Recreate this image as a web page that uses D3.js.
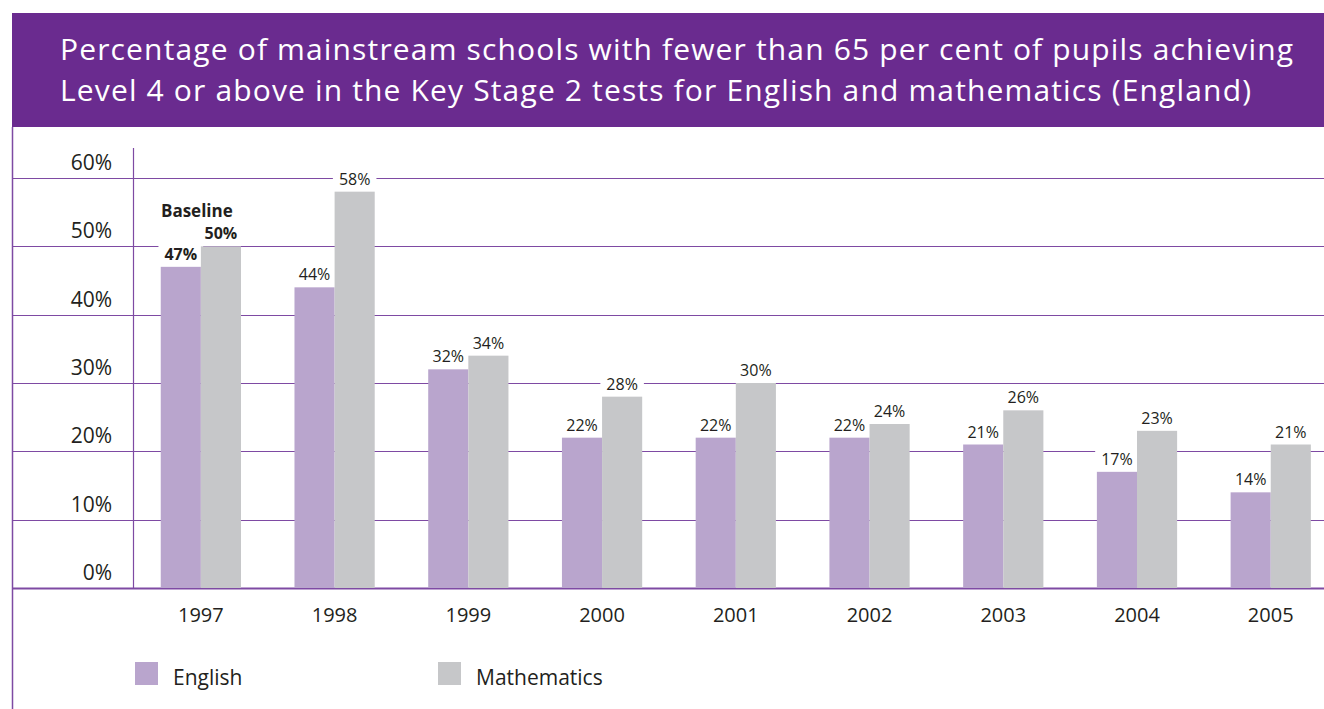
<!DOCTYPE html>
<html>
<head>
<meta charset="utf-8">
<script src="https://cdn.jsdelivr.net/npm/d3@7"></script>
<style>
  html, body { margin: 0; padding: 0; background: #ffffff; }
  svg { display: block; font-family: "Open Sans", "Noto Sans", sans-serif; }
</style>
</head>
<body>
<div id="chart"></div>
<script>
// Key Stage 2 results: share of schools under the 65% floor target
const years = ["1997", "1998", "1999", "2000", "2001", "2002", "2003", "2004", "2005"];
const english = [47, 44, 32, 22, 22, 22, 21, 17, 14];
const mathematics = [50, 58, 34, 28, 30, 24, 26, 23, 21];
const seriesNames = ["English", "Mathematics"];
const yTicks = [0, 10, 20, 30, 40, 50, 60];
const titleLines = [
  "Percentage of mainstream schools with fewer than 65 per cent of pupils achieving",
  "Level 4 or above in the Key Stage 2 tests for English and mathematics (England)"
];
const baselineYear = "1997";

const W = 1324, H = 709;
const purple = "#6a2b8f";
const gridPurple = "#7e4aa3";
const colors = { English: "#b9a5cd", Mathematics: "#c6c7c9" };
const textColor = "#231f20";

const svg = d3.select("#chart").append("svg")
  .attr("width", W).attr("height", H);

// Header band
svg.append("rect")
  .attr("x", 12).attr("y", 13).attr("width", W - 12).attr("height", 114)
  .attr("fill", purple);

// Title: first line spread to span the header width, second line shares its spacing
const titleWidth = 1233;
const titleText = svg.append("g").selectAll("text").data(titleLines).join("text")
  .attr("x", 60)
  .attr("y", (d, i) => 59.5 + i * 41)
  .attr("fill", "#ffffff")
  .attr("font-size", 30)
  .text(d => d);
const natural = titleText.nodes()[0].getComputedTextLength();
const spacing = (titleWidth - natural) / (titleLines[0].length - 1);
titleText.attr("letter-spacing", spacing);

// Left frame line
svg.append("line")
  .attr("x1", 12.5).attr("x2", 12.5).attr("y1", 127).attr("y2", H)
  .attr("stroke", gridPurple).attr("stroke-width", 1.5);

// Scales
const y = d3.scaleLinear().domain([0, 60]).range([588, 178]);
const x = d3.scaleBand().domain(years).range([134, 1337.6]).paddingInner(0.4).paddingOuter(0.2);
const xs = d3.scaleBand().domain(seriesNames).range([0, x.bandwidth()]);

// Horizontal gridlines
svg.append("g").selectAll("line").data(yTicks).join("line")
  .attr("x1", 12).attr("x2", W)
  .attr("y1", d => Math.round(y(d)) + 0.5).attr("y2", d => Math.round(y(d)) + 0.5)
  .attr("stroke", gridPurple)
  .attr("stroke-width", d => d === 0 ? 1.8 : 1);

// Y axis line
svg.append("line")
  .attr("x1", 133.5).attr("x2", 133.5).attr("y1", 148).attr("y2", 589)
  .attr("stroke", gridPurple).attr("stroke-width", 1.2);

// Y tick labels sit above their gridline
svg.append("g").selectAll("text").data(yTicks).join("text")
  .attr("x", 112)
  .attr("y", d => y(d) - 8)
  .attr("text-anchor", "end")
  .attr("fill", textColor)
  .attr("font-size", 21)
  .text(d => d + "%");

const rows = years.map((yr, i) => ({ year: yr, values: [
  { key: "English", value: english[i] },
  { key: "Mathematics", value: mathematics[i] }
]}));

// Layers: label backings under the bars, label text on top
const backingLayer = svg.append("g");
const barLayer = svg.append("g");
const labelLayer = svg.append("g");

// Bars
const groups = barLayer.selectAll("g").data(rows).join("g")
  .attr("transform", d => `translate(${x(d.year)},0)`);

groups.selectAll("rect").data(d => d.values).join("rect")
  .attr("x", d => xs(d.key))
  .attr("width", xs.bandwidth())
  .attr("y", d => y(d.value))
  .attr("height", d => y(0) - y(d.value))
  .attr("fill", d => colors[d.key]);

// Value labels, with a white backing so gridlines break around them
rows.forEach(r => {
  r.values.forEach(v => {
    const cx = x(r.year) + xs(v.key) + xs.bandwidth() / 2;
    const t = labelLayer.append("text")
      .attr("x", cx)
      .attr("y", y(v.value) - 7)
      .attr("text-anchor", "middle")
      .attr("fill", textColor)
      .attr("font-size", 16)
      .attr("font-weight", r.year === baselineYear ? 700 : 400)
      .text(v.value + "%");
    const bb = t.node().getBBox();
    backingLayer.append("rect")
      .attr("x", bb.x - 6).attr("y", bb.y + 2)
      .attr("width", bb.width + 12).attr("height", bb.height - 2)
      .attr("fill", "#ffffff");
  });
});

// Baseline marker above the first group
labelLayer.append("text")
  .attr("x", x(baselineYear) + x.bandwidth() / 2 - 4)
  .attr("y", y(d3.max([english[0], mathematics[0]])) - 29)
  .attr("text-anchor", "middle")
  .attr("fill", textColor)
  .attr("font-size", 17)
  .attr("font-weight", 700)
  .text("Baseline");

// Year labels
svg.append("g").selectAll("text").data(years).join("text")
  .attr("x", d => x(d) + x.bandwidth() / 2)
  .attr("y", 622)
  .attr("text-anchor", "middle")
  .attr("fill", textColor)
  .attr("font-size", 20)
  .text(d => d);

// Legend
const legendX = [135, 438];
const legend = svg.append("g").selectAll("g").data(seriesNames).join("g")
  .attr("transform", (d, i) => `translate(${legendX[i]},662)`);
legend.append("rect")
  .attr("width", 23).attr("height", 23)
  .attr("fill", d => colors[d]);
legend.append("text")
  .attr("x", 38).attr("y", 22.5)
  .attr("fill", textColor)
  .attr("font-size", 21)
  .text(d => d);
</script>
</body>
</html>
